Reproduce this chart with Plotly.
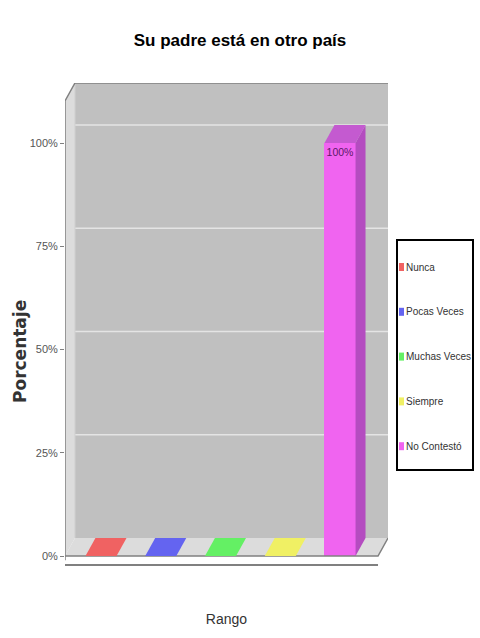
import plotly.graph_objects as go

# ---------------- data ----------------
categories = ["Nunca", "Pocas Veces", "Muchas Veces", "Siempre", "No Contestó"]
values = [0, 0, 0, 0, 100]
y_ticks = [0, 25, 50, 75, 100]
y_tick_labels = ["0%", "25%", "50%", "75%", "100%"]
title_text = "Su padre está en otro país"
x_title = "Rango"
y_title = "Porcentaje"

# ---------------- style ----------------
front_colors = ["#f06262", "#6464f0", "#64f064", "#f0f064", "#f064f0"]
top_colors = ["#f06262", "#6464f0", "#64f064", "#f0f064", "#c45ad0"]
side_colors = ["#b84848", "#4848b8", "#48b848", "#b8b848", "#b44cc0"]

W, H = 480, 638
L, R, T, B = 65, 92, 83, 68
X_RANGE = [-0.6025, 4.803]
Y_RANGE = [-3.39, 114.53]
DX, DY = 0.167, 4.36          # 3D depth offset in data units
BW = 0.52                      # bar width
FONT = "Liberation Sans, Arial, sans-serif"

WALL = "#c0c0c0"
FLOOR = "#dcdcdc"
EDGE = "#808080"
GRID = "#e4e4e4"

x_pos = list(range(len(categories)))
x0 = X_RANGE[0]
x1 = X_RANGE[1] - DX
ytop = Y_RANGE[1] - DY


def path(pts):
    return "M " + " L ".join(f"{a},{b}" for a, b in pts) + " Z"


def px2paper_x(px):
    return (px - L) / (W - L - R)


def px2paper_y(py):
    return (H - B - py) / (H - T - B)


shapes = []
# back wall
shapes.append(dict(type="path", xref="x", yref="y", layer="below",
                   path=path([(x0 + DX, DY), (X_RANGE[1], DY), (X_RANGE[1], Y_RANGE[1]), (x0 + DX, Y_RANGE[1])]),
                   fillcolor=WALL, line=dict(width=0)))
# left side wall
shapes.append(dict(type="path", xref="x", yref="y", layer="below",
                   path=path([(x0, 0), (x0 + DX, DY), (x0 + DX, Y_RANGE[1]), (x0, ytop)]),
                   fillcolor=FLOOR, line=dict(width=0)))
# floor
shapes.append(dict(type="path", xref="x", yref="y", layer="below",
                   path=path([(x0, 0), (x1, 0), (x1 + DX, DY), (x0 + DX, DY)]),
                   fillcolor=FLOOR, line=dict(width=0)))
# gridlines on the back wall
for v in y_ticks[1:]:
    shapes.append(dict(type="line", xref="x", yref="y", layer="below",
                       x0=x0 + DX, x1=X_RANGE[1], y0=v + DY, y1=v + DY,
                       line=dict(color=GRID, width=1.5)))
# wall back-left edge
shapes.append(dict(type="line", xref="x", yref="y", layer="below",
                   x0=x0 + DX, x1=x0 + DX, y0=DY, y1=Y_RANGE[1],
                   line=dict(color="#d0d0d0", width=1)))
# outlines: front vertical axis line, top diagonal, top edge
shapes.append(dict(type="path", xref="x", yref="y", layer="above",
                   path="M %f,%f L %f,%f L %f,%f L %f,%f" % (x0, -1.0, x0, ytop, x0 + DX, Y_RANGE[1], X_RANGE[1], Y_RANGE[1]),
                   line=dict(color=EDGE, width=1.5)))
# floor front edge and right diagonal
shapes.append(dict(type="path", xref="x", yref="y", layer="above",
                   path="M %f,%f L %f,%f L %f,%f" % (x0, 0, x1, 0, x1 + DX, DY),
                   line=dict(color=EDGE, width=1.5)))
# category axis line
shapes.append(dict(type="line", xref="x", yref="y", layer="above",
                   x0=x0, x1=x1, y0=-2.2, y1=-2.2,
                   line=dict(color=EDGE, width=2)))

# bar 3D faces
for i, (xc, v) in enumerate(zip(x_pos, values)):
    xl, xr = xc - BW / 2, xc + BW / 2
    shapes.append(dict(type="path", xref="x", yref="y", layer="above",
                       path=path([(xr, 0), (xr + DX, DY), (xr + DX, v + DY), (xr, v)]),
                       fillcolor=side_colors[i], line=dict(width=0)))
    shapes.append(dict(type="path", xref="x", yref="y", layer="above",
                       path=path([(xl, v), (xr, v), (xr + DX, v + DY), (xl + DX, v + DY)]),
                       fillcolor=top_colors[i], line=dict(width=0)))

# manual legend
lg_x0, lg_x1, lg_y0, lg_y1 = 397, 473, 240, 470
shapes.append(dict(type="rect", xref="paper", yref="paper",
                   x0=px2paper_x(lg_x0), x1=px2paper_x(lg_x1),
                   y0=px2paper_y(lg_y1), y1=px2paper_y(lg_y0),
                   line=dict(color="black", width=2), fillcolor="white"))
annotations = []
for i, name in enumerate(categories):
    cy = 267 + i * 44.8
    shapes.append(dict(type="rect", xref="paper", yref="paper",
                       x0=px2paper_x(399), x1=px2paper_x(404),
                       y0=px2paper_y(cy + 4), y1=px2paper_y(cy - 4),
                       line=dict(width=0), fillcolor=front_colors[i]))
    annotations.append(dict(xref="paper", yref="paper", x=px2paper_x(404.5), y=px2paper_y(cy),
                            xanchor="left", yanchor="middle", showarrow=False, text=name,
                            xshift=0, borderpad=0,
                            font=dict(family=FONT, size=10, color="#333333")))

# y-axis title
annotations.append(dict(xref="paper", yref="paper", x=px2paper_x(20), y=px2paper_y(352),
                        xanchor="center", yanchor="middle", showarrow=False, textangle=-90,
                        text=f"<b>{y_title}</b>",
                        font=dict(family="DejaVu Sans, sans-serif", size=17, color="#333333")))

fig = go.Figure()
fig.add_trace(go.Bar(
    x=x_pos, y=values, width=BW,
    marker=dict(color=front_colors, line=dict(width=0)),
    text=[f"{v}%" if v > 0 else "" for v in values],
    textposition="inside", insidetextanchor="end", textangle=0,
    textfont=dict(family=FONT, size=10.5, color="#5a1a66"),
    constraintext="none", showlegend=False, hoverinfo="skip",
))

fig.update_layout(
    width=W, height=H,
    margin=dict(l=L, r=R, t=T, b=B, autoexpand=False),
    paper_bgcolor="white", plot_bgcolor="white",
    title=dict(text=f"<b>{title_text}</b>", x=0.5, xanchor="center",
               y=1 - 40 / H, yanchor="middle", yref="container",
               font=dict(family=FONT, size=17, color="#000000")),
    xaxis=dict(range=X_RANGE, showgrid=False, zeroline=False, showline=False,
               showticklabels=False, ticks="", automargin=False,
               title=dict(text=x_title, standoff=44,
                          font=dict(family=FONT, size=14, color="#333333"))),
    yaxis=dict(range=Y_RANGE, showgrid=False, zeroline=False, showline=False,
               tickvals=y_ticks, ticktext=y_tick_labels, ticks="outside", ticklen=4,
               tickcolor=EDGE, automargin=False,
               tickfont=dict(family=FONT, size=11, color="#555555")),
    shapes=shapes,
    annotations=annotations,
    showlegend=False,
    bargap=0,
)

fig.write_html("out.html", post_script="document.body.style.margin='0px';",
               config={"displayModeBar": False})
